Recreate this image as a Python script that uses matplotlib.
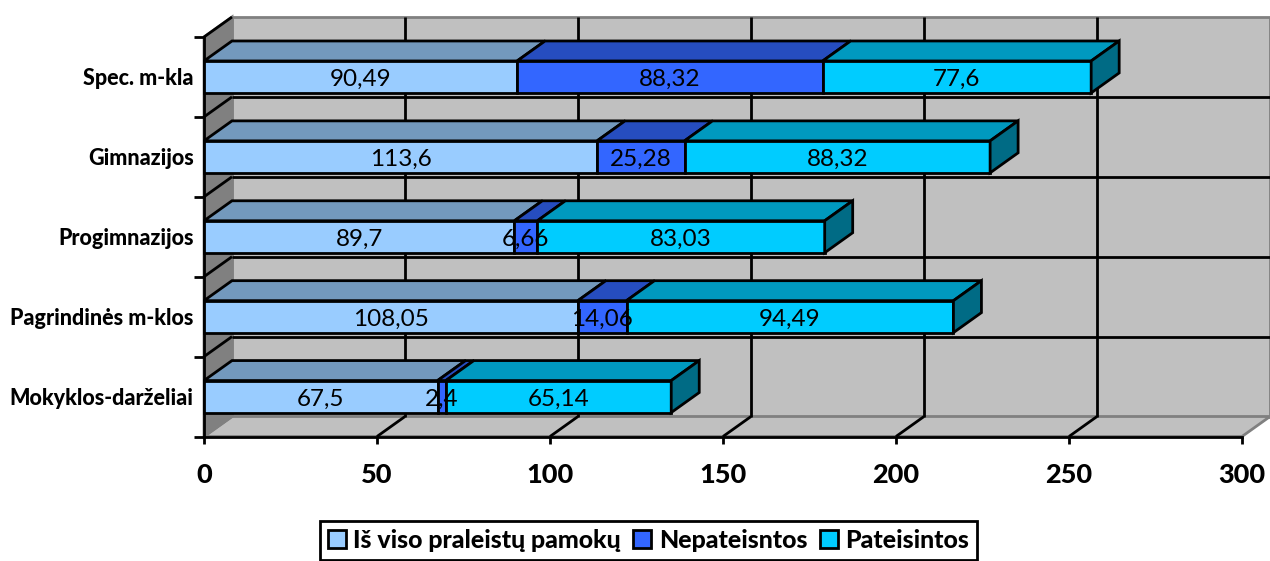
import matplotlib
matplotlib.use("Agg")
import matplotlib.pyplot as plt
from matplotlib.patches import Polygon, Patch

plt.rcParams["font.family"] = ["Lato", "DejaVu Sans"]

categories = ["Mokyklos-darželiai", "Pagrindinės m-klos", "Progimnazijos", "Gimnazijos", "Spec. m-kla"]
series_names = ["Iš viso praleistų pamokų", "Nepateisntos", "Pateisintos"]
total = [67.5, 108.05, 89.7, 113.6, 90.49]
unexcused = [2.4, 14.06, 6.66, 25.28, 88.32]
excused = [65.14, 94.49, 83.03, 88.32, 77.6]
value_labels = [
    ["67,5", "108,05", "89,7", "113,6", "90,49"],
    ["2,4", "14,06", "6,66", "25,28", "88,32"],
    ["65,14", "94,49", "83,03", "88,32", "77,6"],
]
x_ticks = [0, 50, 100, 150, 200, 250, 300]

front = ["#99CCFF", "#3366FF", "#00CCFF"]
top = ["#7399BD", "#264DBF", "#0099BF"]
side = ["#5C7A99", "#1F3D99", "#006B85"]

W, H = 1270, 561
fig = plt.figure(figsize=(W / 100, H / 100), dpi=100)
ax = fig.add_axes([204 / W, 1 - 436.5 / H, 1038 / W, 399.5 / H])
ax.set_xlim(0, 300)
ax.set_ylim(-0.5, 4.5)

# depth of the fake 3d box, in data units
dx = 28 / (1038 / 300)
dy = 20 / (399.5 / 5)
bar_h = 0.4


def poly(pts, fc, ec="black", lw=2, z=2):
    ax.add_patch(Polygon(pts, closed=True, facecolor=fc, edgecolor=ec, linewidth=lw,
                         zorder=z, clip_on=False, joinstyle="miter"))


def line(xs, ys, c="black", lw=2, z=1.5):
    ax.plot(xs, ys, color=c, lw=lw, zorder=z, clip_on=False, solid_capstyle="butt")


# walls
poly([(dx, -0.5 + dy), (300 + dx, -0.5 + dy), (300 + dx, 4.5 + dy), (dx, 4.5 + dy)], "#C0C0C0", "#808080", 2, 1)
poly([(0, -0.5), (300, -0.5), (300 + dx, -0.5 + dy), (dx, -0.5 + dy)], "#C0C0C0", "#808080", 2, 1)
poly([(0, -0.5), (dx, -0.5 + dy), (dx, 4.5 + dy), (0, 4.5)], "#808080", "#808080", 2, 1)
line([0, dx], [4.5, 4.5 + dy])

# grid
for t in x_ticks[1:-1]:
    line([t + dx, t + dx], [-0.5 + dy, 4.5 + dy])
    line([t, t + dx], [-0.5, -0.5 + dy])
for k in range(1, 5):
    y = k - 0.5
    line([dx, 300 + dx], [y + dy, y + dy])
    line([0, dx], [y, y + dy])

# bars, back row first
for i in range(4, -1, -1):
    z = 3 + (4 - i)
    left = 0
    vals = [total[i], unexcused[i], excused[i]]
    y0, y1 = i - bar_h / 2, i + bar_h / 2
    for s, v in enumerate(vals):
        poly([(left, y1), (left + v, y1), (left + v + dx, y1 + dy), (left + dx, y1 + dy)], top[s], z=z)
        poly([(left, y0), (left + v, y0), (left + v, y1), (left, y1)], front[s], z=z)
        left += v
    poly([(left, y0), (left + dx, y0 + dy), (left + dx, y1 + dy), (left, y1)], side[2], z=z)
    left = 0
    for s, v in enumerate(vals):
        ax.text(left + v / 2, i - 0.03, value_labels[s][i], ha="center", va="center",
                fontsize=17.5, color="black", zorder=20)
        left += v

for sp in ["top", "right"]:
    ax.spines[sp].set_visible(False)
for sp in ["left", "bottom"]:
    ax.spines[sp].set_linewidth(2)
    ax.spines[sp].set_zorder(2)

ax.set_xticks(x_ticks)
ax.set_xticklabels([str(t) for t in x_ticks], fontsize=19.5, fontweight=900)
ax.tick_params(axis="x", length=5, width=2, pad=14)
ax.set_yticks(range(5))
ax.set_yticklabels(categories, fontsize=15.5, fontweight=900)
ax.tick_params(axis="y", which="major", length=0, pad=7.5)
ax.set_yticks([k - 0.5 for k in range(6)], minor=True)
ax.tick_params(axis="y", which="minor", length=7, width=2)

handles = [Patch(facecolor=front[s], edgecolor="black", linewidth=2) for s in range(3)]
leg = fig.legend(handles, series_names, ncol=3, loc="center", bbox_to_anchor=(648.5 / W, 1 - 540.5 / H),
                 frameon=True, fancybox=False, edgecolor="black", framealpha=1,
                 prop={"size": 17.9, "weight": 900}, handlelength=0.72, handleheight=0.72,
                 handletextpad=0.3, columnspacing=0.5, borderpad=0.32, borderaxespad=0)
leg.get_frame().set_linewidth(2)

fig.savefig("out.png", dpi=100)
